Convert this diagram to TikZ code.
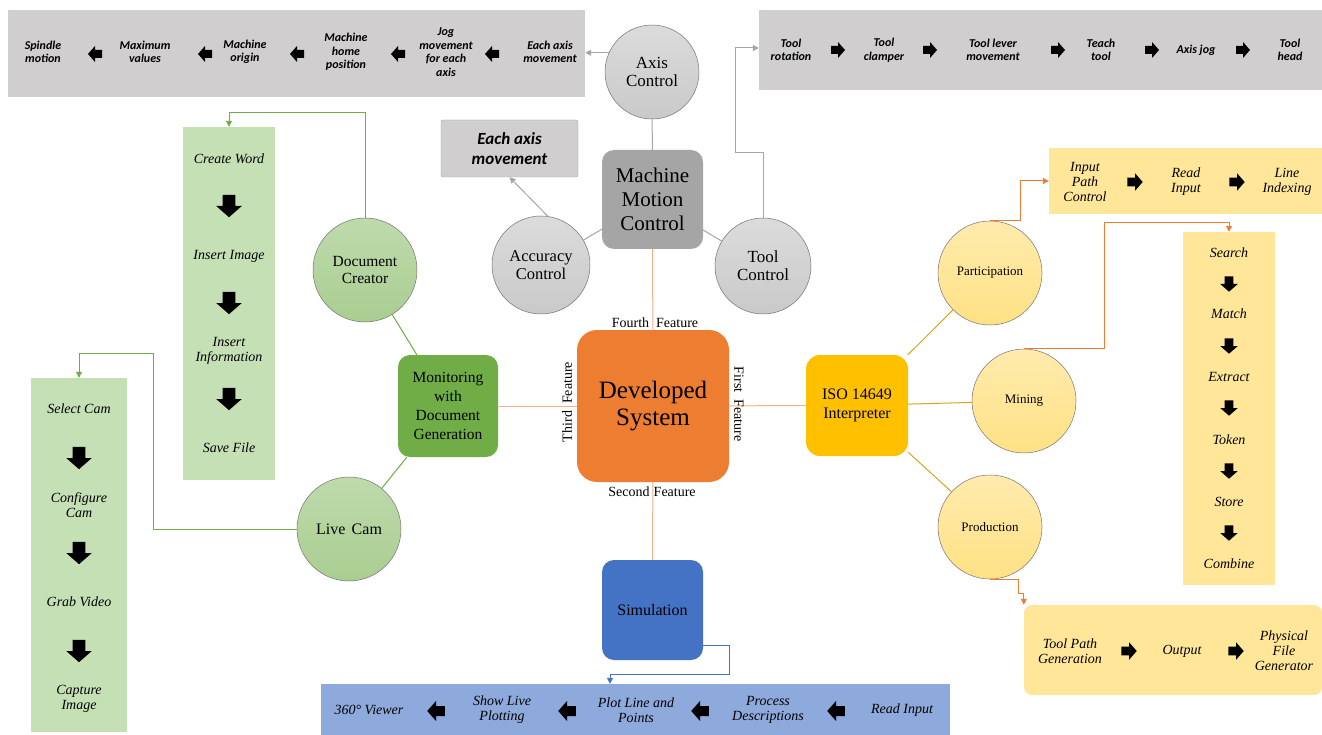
\documentclass[tikz,border=0pt]{standalone}
\usepackage{fontspec}
\setmainfont{Liberation Serif}
\newfontfamily\calib{Carlito}
\usetikzlibrary{arrows.meta}

\definecolor{panelgray}{HTML}{D0CECE}
\definecolor{mmcgray}{HTML}{A5A5A5}
\definecolor{lineg}{HTML}{A6A6A6}
\definecolor{dsorange}{HTML}{ED7D31}
\definecolor{lorange}{HTML}{F4B183}
\definecolor{simblue}{HTML}{4472C4}
\definecolor{barblue}{HTML}{8EA9DB}
\definecolor{mongreen}{HTML}{70AD47}
\definecolor{lgreen}{HTML}{C5E0B4}
\definecolor{isogold}{HTML}{FFC000}
\definecolor{goldline}{HTML}{D9A520}
\definecolor{lyellow}{HTML}{FFE699}

\begin{document}
\begin{tikzpicture}[x=1pt,y=-1pt,
  panel/.style={draw=none,inner sep=0,minimum width=#1},
  graylab/.style={font=\calib\bfseries\itshape\fontsize{12}{13.5}\selectfont,align=center,inner sep=0},
  lab/.style={font=\itshape\fontsize{14}{15}\selectfont,align=center,inner sep=0},
  rbox/.style={rounded corners=12,align=center,inner sep=0,draw=none},
  circ/.style={circle,draw=black!55,line width=0.5pt,align=center,inner sep=0},
  graycirc/.style={circ,top color=gray!28,bottom color=gray!42,font=\fontsize{17}{18}\selectfont},
  greencirc/.style={circ,top color=mongreen!45,bottom color=mongreen!60,font=\fontsize{15.5}{17}\selectfont},
  yelcirc/.style={circ,top color=isogold!32,bottom color=isogold!48,font=\fontsize{13}{14}\selectfont},
  feat/.style={font=\fontsize{14}{15}\selectfont,inner sep=0},
  gline/.style={draw=lineg,line width=1pt},
  garrow/.style={gline,-{Triangle[width=6pt,length=6pt]}},
  dsline/.style={draw=lorange,line width=1pt},
  grline/.style={draw=mongreen,line width=1pt},
  grarrow/.style={grline,-{Triangle[width=6pt,length=6pt]}},
  goline/.style={draw=goldline,line width=1pt},
  oarrow/.style={draw=dsorange,line width=1pt,-{Triangle[width=6pt,length=6pt]}},
  barrow/.style={draw=simblue,line width=1pt,-{Triangle[width=6pt,length=6pt]}},
  rarr/.pic={\fill[black] (-7,-4) -- (0,-4) -- (0,-8) -- (7,0) -- (0,8) -- (0,4) -- (-7,4) -- cycle;},
  larr/.pic={\fill[black] (7,-4) -- (0,-4) -- (0,-8) -- (-7,0) -- (0,8) -- (0,4) -- (7,4) -- cycle;},
  darr/.pic={\fill[black] (-4,-7) -- (-4,0) -- (-8,0) -- (0,7) -- (8,0) -- (4,0) -- (4,-7) -- cycle;},
]
\useasboundingbox[fill=white] (0,0) rectangle (1322,735);

% ---------- panels ----------
\node[panel=577,minimum height=87,fill=panelgray] (tl) at (296.5,53.5) {};
\node[panel=563,minimum height=80,fill=panelgray] (tr) at (1040.5,50) {};
\node[panel=137,minimum height=57,fill=panelgray,draw=gray!70,line width=0.4pt,rounded corners=2,
      font=\calib\bfseries\itshape\fontsize{17}{20}\selectfont,align=center] (eab) at (509.5,148.5) {Each axis\\movement};
\node[panel=273,minimum height=66,fill=lyellow] (ytop) at (1185.5,181) {};
\node[panel=92,minimum height=353,fill=lyellow] (yv) at (1229,408.5) {};
\node[panel=298,minimum height=90,fill=lyellow,rounded corners=8] (ybot) at (1173,650) {};
\node[panel=629,minimum height=51,fill=barblue] (blue) at (635.5,709.5) {};
\node[panel=92,minimum height=353,fill=lgreen] (g1) at (229,303.5) {};
\node[panel=96,minimum height=354,fill=lgreen] (g2) at (79,555) {};

% ---------- top-left gray sequence ----------
\node[graylab] (t1) at (43,52) {Spindle\\motion};
\node[graylab] (t2) at (145,52) {Maximum\\values};
\node[graylab] (t3) at (245,52) {Machine\\origin};
\node[graylab] (t4) at (346,52) {Machine\\home\\position};
\node[graylab] (t5) at (446,52) {Jog\\movement\\for each\\axis};
\node[graylab] (t6) at (550,52) {Each axis\\movement};
\foreach \x in {95,205,297,398,492} \pic at (\x,54) {larr};

% ---------- top-right gray sequence ----------
\node[graylab] (r1) at (791,50) {Tool\\rotation};
\node[graylab] (r2) at (884,50) {Tool\\clamper};
\node[graylab] (r3) at (993,50) {Tool lever\\movement};
\node[graylab] (r4) at (1101,50) {Teach\\tool};
\node[graylab] (r5) at (1196,50) {Axis jog};
\node[graylab] (r6) at (1290,50) {Tool\\head};
\foreach \x in {838,930,1058,1152,1243} \pic at (\x,50) {rarr};

% ---------- green document sequence ----------
\node[lab] (c1) at (229,159) {Create Word};
\node[lab] (c2) at (229,256) {Insert Image};
\node[lab] (c3) at (229,351) {Insert\\Information};
\node[lab] (c4) at (229,448) {Save File};
\foreach \y in {206,303,399} \pic[scale=1.6] at (229,\y) {darr};

% ---------- green camera sequence ----------
\node[lab] (k1) at (79,409) {Select Cam};
\node[lab] (k2) at (79,505) {Configure\\Cam};
\node[lab] (k3) at (79,602) {Grab Video};
\node[lab] (k4) at (79,699) {Capture\\Image};
\foreach \y in {458,553,651} \pic[scale=1.6] at (79,\y) {darr};

% ---------- blue simulation sequence ----------
\node[lab] (b1) at (369,710) {360° Viewer};
\node[lab] (b2) at (502,710) {Show Live\\Plotting};
\node[lab] (b3) at (636,710) {Plot Line and\\Points};
\node[lab] (b4) at (768,710) {Process\\Descriptions};
\node[lab] (b5) at (902,710) {Read Input};
\foreach \x in {436,567,700,836} \pic[scale=1.25] at (\x,711) {larr};

% ---------- yellow sequences ----------
\node[lab] (y1) at (1085,182) {Input\\Path\\Control};
\node[lab] (y2) at (1186,182) {Read\\Input};
\node[lab] (y3) at (1287,182) {Line\\Indexing};
\foreach \x in {1135,1237} \pic[scale=1.1] at (\x,182) {rarr};

\node[lab] (s1) at (1229,253) {Search};
\node[lab] (s2) at (1229,314) {Match};
\node[lab] (s3) at (1229,377) {Extract};
\node[lab] (s4) at (1229,440) {Token};
\node[lab] (s5) at (1229,502) {Store};
\node[lab] (s6) at (1229,564) {Combine};
\foreach \y in {284,346,408,471,533} \pic[scale=1.1] at (1229,\y) {darr};

\node[lab] (p1) at (1070,651) {Tool Path\\Generation};
\node[lab] (p2) at (1182,651) {Output};
\node[lab] (p3) at (1284,651) {Physical\\File\\Generator};
\foreach \x in {1129,1236} \pic[scale=1.1] at (\x,651) {rarr};

% ---------- main nodes ----------
\node[rbox,fill=dsorange,minimum width=152,minimum height=152,rounded corners=20,
      font=\fontsize{25}{27}\selectfont] (ds) at (653,406) {Developed\\System};
\node[rbox,fill=mmcgray,minimum width=101,minimum height=99,
      font=\fontsize{21}{24}\selectfont] (mmc) at (652.5,199.5) {Machine\\Motion\\Control};
\node[rbox,fill=simblue,minimum width=101,minimum height=100,
      font=\fontsize{16}{18}\selectfont] (sim) at (652.5,610) {Simulation};
\node[rbox,fill=mongreen,minimum width=100,minimum height=102,
      font=\fontsize{15.5}{19}\selectfont] (mon) at (448,406) {Monitoring\\with\\Document\\Generation};
\node[rbox,fill=isogold,minimum width=102,minimum height=101,rounded corners=14,
      font=\fontsize{16}{18.5}\selectfont] (iso) at (857,405.5) {ISO 14649\\Interpreter};

\node[graycirc,minimum size=94] (axis) at (652,72) {Axis\\Control};
\node[graycirc,minimum size=98,font=\fontsize{16.5}{18}\selectfont] (acc) at (541,265) {Accuracy\\Control};
\node[graycirc,minimum size=96] (tool) at (763,266) {Tool\\Control};

\node[greencirc,minimum size=104] (doc) at (365,270) {Document\\Creator};
\node[greencirc,minimum size=104,font=\fontsize{16}{18}\selectfont] (live) at (349,529) {Live\hspace{0.4em}Cam};

\node[yelcirc,minimum size=104] (part) at (990,273) {Participation};
\node[yelcirc,minimum size=104] (mining) at (1024,401) {Mining};
\node[yelcirc,minimum size=104] (prod) at (990,527) {Production};

% ---------- connectors ----------
\draw[gline] (axis) -- (mmc);
\draw[gline] (mmc) -- (acc);
\draw[gline] (mmc) -- (tool);
\draw[garrow] (axis.156) -- (axis.156 -| tl.east);
\draw[garrow] (tool.north) -- (tool.north |- 0,153) -- (735,153) -- (735,48) -- (tr.west |- 0,48);
\draw[garrow] (acc.82) -- (eab.south);

\draw[dsline] (mmc) -- (ds);
\draw[dsline] (ds) -- (sim);
\draw[dsline] (ds) -- (mon);
\draw[dsline] (ds) -- (iso);

\draw[barrow] (sim.east |- 0,645) -- (729,645) -- (729,674) -- (610,674) -- (blue.north -| 610,0);

\draw[grline] (doc) -- (mon);
\draw[grline] (mon) -- (live);
\draw[grarrow] (doc.north) |- (229,113) -- (g1.north);
\draw[grarrow] (live.west) -| (153,353) -| (g2.north);

\draw[goline] (iso) -- (part);
\draw[goline] (iso) -- (mining);
\draw[goline] (iso) -- (prod);
\draw[oarrow] (part.north) -| (1020,181) -- (ytop.west);
\draw[oarrow] (mining.north) -| (1104,223) -| (yv.north);
\draw[oarrow] (prod.south) -| (1018,593) -| (ybot.north west);

% ---------- feature labels ----------
\node[feat] (f4) at (655,323) {Fourth\hspace{0.5em}Feature};
\node[feat] (f2) at (652,492) {Second\hspace{0.3em}Feature};
\node[feat,rotate=90] (f3) at (567,402) {Third\hspace{0.5em}Feature};
\node[feat,rotate=-90] (f1) at (739,404) {First\hspace{0.5em}Feature};
\end{tikzpicture}
\end{document}
